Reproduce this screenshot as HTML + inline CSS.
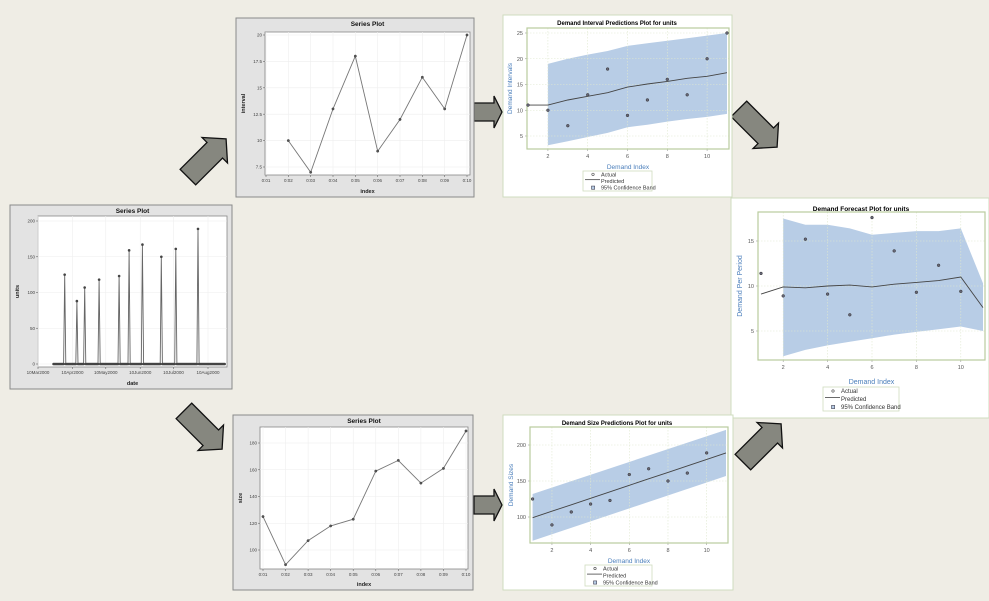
<!DOCTYPE html>
<html><head><meta charset="utf-8">
<style>
html,body{margin:0;padding:0;background:#efede5;}
svg{display:block;font-family:"Liberation Sans",Arial,sans-serif;}
</style></head>
<body>
<svg id="root" width="989" height="601" viewBox="0 0 989 601">
<rect x="0" y="0" width="989" height="601" fill="#efede5"/>
</svg>
<script>
// ---------- DATA ----------
const unitsDateTicks=["10Mar2000","10Apr2000","10May2000","10Jun2000","10Jul2000","10Aug2000"];
const unitsDateTickDays=[0,31,61,92,122,153];
const unitsSpikeDays=[24,35,42,55,73,82,94,111,124,144];
const unitsSpikeVals=[125,88,107,118,123,159,167,150,161,189];
const unitsFirstDay=14, unitsLastDay=168;
const unitsYTicks=[0,50,100,150,200];

const intervalIdx=[0.02,0.03,0.04,0.05,0.06,0.07,0.08,0.09,0.10];
const intervalVals=[10,7,13,18,9,12,16,13,20];
const intervalXTicks=[0.01,0.02,0.03,0.04,0.05,0.06,0.07,0.08,0.09,0.10];
const intervalYTicks=[7.5,10,12.5,15,17.5,20];

const sizeIdx=[0.01,0.02,0.03,0.04,0.05,0.06,0.07,0.08,0.09,0.10];
const sizeVals=[125,89,107,118,123,159,167,150,161,189];
const sizeXTicks=[0.01,0.02,0.03,0.04,0.05,0.06,0.07,0.08,0.09,0.10];
const sizeYTicks=[100,120,140,160,180];

const ipIndex=[1,2,3,4,5,6,7,8,9,10,11];
const ipActual=[11,10,7,13,18,9,12,16,13,20,25];
const ipPred=[11,11,12,12.7,13.4,14.5,15.1,15.6,16.2,16.6,17.3];
const ipBandIdx=[2,3,4,5,6,7,8,9,10,11];
const ipUpper=[19,20,20.8,21.5,22.5,23,23.5,24,24.5,25];
const ipLower=[3.2,4,4.8,5.6,6.7,7.2,7.8,8.3,8.7,9.3];
const ipYTicks=[5,10,15,20,25];

const fcIndex=[1,2,3,4,5,6,7,8,9,10,11];
const fcActualIdx=[1,2,3,4,5,6,7,8,9,10];
const fcActual=[11.4,8.9,15.2,9.1,6.8,17.6,13.9,9.3,12.3,9.4];
const fcPred=[9.1,9.9,9.8,10,10.1,9.9,10.2,10.4,10.6,11,7.6];
const fcBandIdx=[2,3,4,5,6,7,8,9,10,11];
const fcUpper=[17.5,16.8,16.8,16.4,15.7,15.9,16.1,16.1,16.4,10.3];
const fcLower=[2.2,2.9,3.4,3.8,4.2,4.6,4.9,5.2,5.5,5.0];
const fcYTicks=[5,10,15];

const spIndex=[1,2,3,4,5,6,7,8,9,10,11];
const spActualIdx=[1,2,3,4,5,6,7,8,9,10];
const spActual=[125,89,107,118,123,159,167,150,161,189];
const spPred=[99,108,117,126,135,144,153,162,171,180,189];
const spBandIdx=[1,11];
const spUpper=[132,221];
const spLower=[67,157];
const spYTicks=[100,150,200];

const predXTicks=[2,4,6,8,10];

// ---------- HELPERS ----------
const NS="http://www.w3.org/2000/svg";
const root=document.getElementById('root');
function mk(tag,attrs,parent){const e=document.createElementNS(NS,tag);for(const k in attrs)e.setAttribute(k,attrs[k]);(parent||root).appendChild(e);return e;}
function lin(d0,d1,r0,r1){return v=>r0+(v-d0)*(r1-r0)/(d1-d0);}
function txt(x,y,s,size,opts,parent){const t=mk('text',Object.assign({x:x,y:y,'font-size':size,fill:'#333','text-anchor':'middle'},opts||{}),parent);t.textContent=s;return t;}

// ---------- ARROWS ----------
function arrow(cx,cy,rot,L,w,hw,hl,name){
  const g=mk('g',{transform:`translate(${cx},${cy}) rotate(${rot})`});
  
  
  const a=-L/2,b=L/2-hl,c=L/2;
  const p=mk('polygon',{points:`${a},${-w} ${b},${-w} ${b},${-hw} ${c},0 ${b},${hw} ${b},${w} ${a},${w}`,fill:'#86877f',stroke:'#111','stroke-width':1.3},g);
  
  
}
arrow(207,158,-45,54,11,18,16,'arrow-to-interval');
arrow(203,430,45,54,11,18,16,'arrow-to-size');
arrow(488,112,0,28,9,16,8,'arrow-to-interval-pred');
arrow(488,505,0,28,9,16,8,'arrow-to-size-pred');
arrow(758,128,45,54,11,18,16,'arrow-to-forecast-top');
arrow(762,443,-45,54,11,18,16,'arrow-to-forecast-bottom');

// ---------- SERIES PLOT PANEL ----------
function seriesPanel(o){
  const g=mk('g',{});
  
  
  const bg=mk('rect',{x:o.bx,y:o.by,width:o.bw,height:o.bh,fill:'#e3e3e3',stroke:'#8a8a8a','stroke-width':1},g);
  
  
  const pa=mk('rect',{x:o.px0,y:o.py0,width:o.px1-o.px0,height:o.py1-o.py0,fill:'#fff',stroke:'#888','stroke-width':0.8},g);
  
  
  const t=txt((o.px0+o.px1)/2,o.by+8,'Series Plot',6.5,{'font-weight':'bold',fill:'#111'},g);
  
  
  o.xTicks.forEach((v,i)=>{const x=o.sx(v);
    mk('line',{x1:x,y1:o.py0,x2:x,y2:o.py1,stroke:'#eee','stroke-width':0.6},g);
    mk('line',{x1:x,y1:o.py1,x2:x,y2:o.py1+2,stroke:'#666','stroke-width':0.6},g);
    const l=txt(x,o.py1+7,o.xLabels[i],4.5,{fill:'#444'},g);
    
    });
  o.yTicks.forEach(v=>{const y=o.sy(v);
    mk('line',{x1:o.px0,y1:y,x2:o.px1,y2:y,stroke:'#eee','stroke-width':0.6},g);
    mk('line',{x1:o.px0-2,y1:y,x2:o.px0,y2:y,stroke:'#666','stroke-width':0.6},g);
    const l=txt(o.px0-3,y+1.6,String(v),4.5,{fill:'#444','text-anchor':'end'},g);
    
    });
  const xl=txt((o.px0+o.px1)/2,o.by+o.bh-4,o.xTitle,5.5,{'font-weight':'bold',fill:'#222'},g);
  
  
  const yx=o.bx+9,yy=(o.py0+o.py1)/2;
  const yl=txt(yx,yy,o.yTitle,5.5,{'font-weight':'bold',fill:'#222',transform:`rotate(-90 ${yx} ${yy})`},g);
  
  
  return g;
}
function seriesLine(g,xs,ys,sx,sy,name,r){
  const d=xs.map((x,i)=>(i?'L':'M')+sx(x).toFixed(1)+','+sy(ys[i]).toFixed(1)).join(' ');
  const p=mk('path',{d:d,fill:'none',stroke:'#777','stroke-width':0.9},g);
  
  
  xs.forEach((x,i)=>{const c=mk('circle',{cx:sx(x),cy:sy(ys[i]),r:r||1.2,fill:'#555',stroke:'#333','stroke-width':0.4},g);
    
    });
}

// Units panel
(function(){
  const sx=lin(0,153,38,208), sy=lin(0,200,364,221);
  const g=seriesPanel({name:'units-series-plot',bx:10,by:205,bw:222,bh:184,px0:38,py0:216,px1:227,py1:367,sx:sx,sy:sy,
    xTicks:unitsDateTickDays,xLabels:unitsDateTicks,yTicks:unitsYTicks,xTitle:'date',yTitle:'units'});
  const xs=[],ys=[];
  for(let d=unitsFirstDay;d<=unitsLastDay;d++){xs.push(d);const k=unitsSpikeDays.indexOf(d);ys.push(k>=0?unitsSpikeVals[k]:0);}
  const d=xs.map((x,i)=>(i?'L':'M')+sx(x).toFixed(1)+','+sy(ys[i]).toFixed(1)).join(' ');
  const p=mk('path',{d:d,fill:'none',stroke:'#666','stroke-width':0.9},g);
  
  
  xs.forEach((x,i)=>{const c=mk('circle',{cx:sx(x),cy:sy(ys[i]),r:1.3,fill:'#444'},g);
    
    });
})();

// Interval panel
(function(){
  const sx=lin(0.01,0.10,266,467), sy=lin(7.5,20,167,35);
  const g=seriesPanel({name:'interval-series-plot',bx:236,by:18,bw:238,bh:179,px0:265,py0:32,px1:470,py1:175,sx:sx,sy:sy,
    xTicks:intervalXTicks,xLabels:intervalXTicks.map(v=>v.toFixed(2).replace(/^0/,'0:').replace('0:.','0:')),yTicks:intervalYTicks,xTitle:'index',yTitle:'interval'});
  seriesLine(g,intervalIdx,intervalVals,sx,sy,'interval');
})();

// Size panel
(function(){
  const sx=lin(0.01,0.10,263,466), sy=lin(100,180,550,443);
  const g=seriesPanel({name:'size-series-plot',bx:233,by:415,bw:240,bh:175,px0:260,py0:427,px1:468,py1:569,sx:sx,sy:sy,
    xTicks:sizeXTicks,xLabels:sizeXTicks.map(v=>v.toFixed(2).replace('0.','0:')),yTicks:sizeYTicks,xTitle:'index',yTitle:'size'});
  seriesLine(g,sizeIdx,sizeVals,sx,sy,'size');
})();

// ---------- PREDICTION PANELS ----------
function predPanel(o){
  const g=mk('g',{});
  
  
  const bg=mk('rect',{x:o.bx,y:o.by,width:o.bw,height:o.bh,fill:'#fff',stroke:'#cfdcbf','stroke-width':1},g);
  
  
  const {sx,sy}=o;
  // band
  const up=o.bandIdx.map((x,i)=>sx(x).toFixed(1)+','+sy(o.upper[i]).toFixed(1));
  const lo=o.bandIdx.map((x,i)=>sx(x).toFixed(1)+','+sy(o.lower[i]).toFixed(1)).reverse();
  const band=mk('polygon',{points:up.concat(lo).join(' '),fill:'#b8cde6'},g);
  
  
  // grid
  o.xTicks.forEach(v=>{const x=sx(v);
    mk('line',{x1:x,y1:o.py0,x2:x,y2:o.py1,stroke:'#dfe8cf','stroke-width':0.6,'stroke-dasharray':'1.5,1.5'},g);
    mk('line',{x1:x,y1:o.py1,x2:x,y2:o.py1+2,stroke:'#999','stroke-width':0.6},g);
    const l=txt(x,o.py1+9,String(v),5.5,{fill:'#555'},g);
    
    });
  o.yTicks.forEach(v=>{const y=sy(v);
    mk('line',{x1:o.px0,y1:y,x2:o.px1,y2:y,stroke:'#dfe8cf','stroke-width':0.6,'stroke-dasharray':'1.5,1.5'},g);
    mk('line',{x1:o.px0-2,y1:y,x2:o.px0,y2:y,stroke:'#999','stroke-width':0.6},g);
    const l=txt(o.px0-4,y+2,String(v),5.5,{fill:'#555','text-anchor':'end'},g);
    
    });
  const pa=mk('rect',{x:o.px0,y:o.py0,width:o.px1-o.px0,height:o.py1-o.py0,fill:'none',stroke:'#b9cc9e','stroke-width':1.2},g);
  
  
  // predicted line
  const d=o.predIdx.map((x,i)=>(i?'L':'M')+sx(x).toFixed(1)+','+sy(o.pred[i]).toFixed(1)).join(' ');
  const pl=mk('path',{d:d,fill:'none',stroke:'#444','stroke-width':0.9},g);
  
  
  o.actIdx.forEach((x,i)=>{const c=mk('circle',{cx:sx(x),cy:sy(o.actual[i]),r:1.4,fill:'#667',stroke:'#333','stroke-width':0.5},g);
    
    });
  const t=txt(o.titleX,o.titleY,o.title,o.titleSize,{'font-weight':'bold',fill:'#000'},g);
  
  
  const xl=txt((o.px0+o.px1)/2,o.xlY,'Demand Index',o.labSize,{fill:'#4a7ebb'},g);
  
  
  const yl=txt(o.ylX,(o.py0+o.py1)/2,o.yTitle,o.labSize,{fill:'#4a7ebb',transform:`rotate(-90 ${o.ylX} ${(o.py0+o.py1)/2})`},g);
  
  
  // legend
  const L=o.leg;
  const lg=mk('g',{},g);
  
  
  mk('rect',{x:L.x,y:L.y,width:L.w,height:L.h,fill:'#fff',stroke:'#cfdcbf','stroke-width':0.8},lg);
  const rh=L.h/3, fs=o.legSize;
  const e1=mk('circle',{cx:L.x+10,cy:L.y+rh*0.5,r:1.2,fill:'none',stroke:'#444','stroke-width':0.6},lg);
  
  
  txt(L.x+18,L.y+rh*0.5+fs*0.35,'Actual',fs,{'text-anchor':'start',fill:'#333'},lg);
  mk('line',{x1:L.x+2,y1:L.y+rh*1.3,x2:L.x+17,y2:L.y+rh*1.3,stroke:'#444','stroke-width':0.8},lg);
  txt(L.x+18,L.y+rh*1.5+fs*0.35,'Predicted',fs,{'text-anchor':'start',fill:'#333'},lg);
  const e3=mk('rect',{x:L.x+8.5,y:L.y+rh*2.5-1.6,width:3.2,height:3.2,fill:'#b8cde6',stroke:'#445','stroke-width':0.6},lg);
  
  
  txt(L.x+18,L.y+rh*2.5+fs*0.35,'95% Confidence Band',fs,{'text-anchor':'start',fill:'#333'},lg);
}

predPanel({name:'interval-predictions-plot',bx:503,by:15,bw:229,bh:182,px0:527,py0:28,px1:729,py1:149,
  sx:lin(1,11,528,727),sy:lin(5,25,136,33),bandIdx:ipBandIdx,upper:ipUpper,lower:ipLower,
  predIdx:ipIndex,pred:ipPred,actIdx:ipIndex,actual:ipActual,xTicks:predXTicks,yTicks:ipYTicks,
  title:'Demand Interval Predictions Plot for units',titleX:617,titleY:25,titleSize:6,xlY:169,ylX:512,labSize:6.5,
  yTitle:'Demand Intervals',leg:{x:583,y:171,w:69,h:20},legSize:5.5});

predPanel({name:'demand-forecast-plot',bx:731,by:198,bw:258,bh:220,px0:758,py0:212,px1:985,py1:360,
  sx:lin(1,11,761,983),sy:lin(5,15,331,241),bandIdx:fcBandIdx,upper:fcUpper,lower:fcLower,
  predIdx:fcIndex,pred:fcPred,actIdx:fcActualIdx,actual:fcActual,xTicks:predXTicks,yTicks:fcYTicks,
  title:'Demand Forecast Plot for units',titleX:861,titleY:211,titleSize:6.5,xlY:384,ylX:742,labSize:7,
  yTitle:'Demand Per Period',leg:{x:823,y:387,w:76,h:24},legSize:6});

predPanel({name:'size-predictions-plot',bx:503,by:415,bw:230,bh:175,px0:530,py0:427,px1:728,py1:543,
  sx:lin(1,11,532.6,726),sy:lin(100,200,517,445),bandIdx:spBandIdx,upper:spUpper,lower:spLower,
  predIdx:spIndex,pred:spPred,actIdx:spActualIdx,actual:spActual,xTicks:predXTicks,yTicks:spYTicks,
  title:'Demand Size Predictions Plot for units',titleX:617,titleY:425,titleSize:6,xlY:563,ylX:513,labSize:6.5,
  yTitle:'Demand Sizes',leg:{x:585,y:565,w:67,h:21},legSize:5.5});
</script>
</body></html>
